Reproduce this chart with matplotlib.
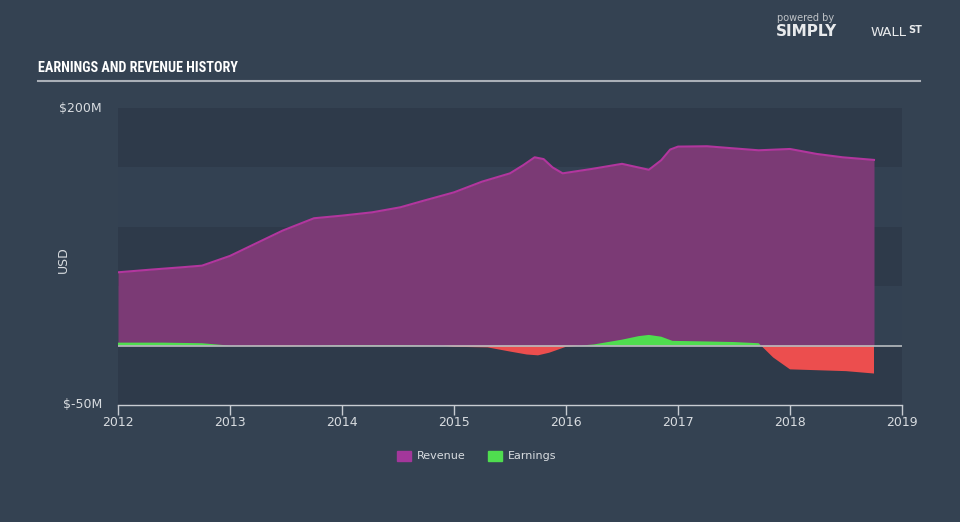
import matplotlib
matplotlib.use("Agg")
import matplotlib.pyplot as plt
import numpy as np
from matplotlib.patches import Patch
from matplotlib import font_manager

# ---- data (values in $M) ----
rev_x = [2012.0, 2012.3, 2012.58, 2012.75, 2013.0, 2013.24, 2013.47, 2013.75, 2014.0, 2014.27,
         2014.52, 2014.73, 2015.0, 2015.25, 2015.5, 2015.62, 2015.72, 2015.8, 2015.88, 2015.97,
         2016.23, 2016.5, 2016.62, 2016.74, 2016.85, 2016.93, 2017.0, 2017.26, 2017.5, 2017.72,
         2018.0, 2018.24, 2018.47, 2018.75]
rev_y = [61.7, 64.0, 66.0, 67.3, 75.5, 86.4, 96.8, 107.2, 109.4, 112.2,
         116.4, 122.0, 129.0, 138.0, 145.0, 152.0, 158.5, 157.0, 150.0, 145.0,
         148.7, 153.0, 150.5, 148.0, 156.0, 165.0, 167.5, 167.8, 166.0, 164.4,
         165.5, 161.3, 158.5, 156.3]

earn_x = [2012.0, 2012.4, 2012.75, 2013.0, 2013.5, 2014.0, 2014.5, 2014.9, 2015.0, 2015.3,
          2015.5, 2015.65, 2015.75, 2015.85, 2016.0, 2016.25, 2016.5, 2016.65, 2016.74, 2016.85,
          2016.95, 2017.25, 2017.5, 2017.72, 2017.85, 2018.0, 2018.5, 2018.75]
earn_y = [2.5, 2.5, 2.0, 0.0, -0.5, 0.5, 0.5, 0.0, -1.0, -1.5,
          -5.0, -7.5, -8.2, -6.0, -1.0, 1.0, 5.0, 8.0, 9.0, 7.5,
          4.0, 3.5, 3.0, 2.0, -10.0, -20.0, -21.5, -23.5]

x_ticks = [2012, 2013, 2014, 2015, 2016, 2017, 2018, 2019]
y_labels = ["$200M", "$-50M"]

# ---- colors ----
BG = "#344252"
BAND_DARK = "#2e3a4a"
BAND_LIGHT = "#334152"
REV_FILL = "#7b3a75"
REV_LINE = "#b2369e"
GREEN = "#4fdd4f"
RED = "#ec4e4e"
TXT = "#d8dce0"

names = {f.name for f in font_manager.fontManager.ttflist}
title_family, title_size = ["DejaVu Sans"], 8.5
for fam, sz in [("Roboto Condensed", 10.2), ("Open Sans Condensed", 10.2),
                ("Liberation Sans Narrow", 10), ("Roboto", 9)]:
    if fam in names:
        title_family, title_size = [fam, "DejaVu Sans"], sz
        break

fig = plt.figure(figsize=(9.6, 5.22), dpi=100, facecolor=BG)
ax = fig.add_axes([118/960, (522-405)/522, (902-118)/960, (405-108)/522])
ax.set_facecolor(BG)

ymin, ymax = -50, 200
ax.set_xlim(2012, 2019)
ax.set_ylim(ymin, ymax)

# background bands
for lo, hi, c in [(150, 200, BAND_DARK), (100, 150, BAND_LIGHT), (50, 100, BAND_DARK),
                  (0, 50, BAND_LIGHT), (-50, 0, BAND_DARK)]:
    ax.axhspan(lo, hi, color=c, lw=0, zorder=0)

rx = np.array(rev_x); ry = np.array(rev_y)
ax.fill_between(rx, 0, ry, color=REV_FILL, lw=0, zorder=2)
ax.plot(rx, ry, color=REV_LINE, lw=1.5, zorder=3)

ex = np.array(earn_x); ey = np.array(earn_y)
ax.fill_between(ex, 0, ey, where=ey >= 0, interpolate=True, color=GREEN, lw=0, zorder=4)
ax.fill_between(ex, 0, ey, where=ey <= 0, interpolate=True, color=RED, lw=0, zorder=4)

ax.axhline(0, color="#b8bcc0", lw=1.2, zorder=5)

for s in ["top", "right", "left"]:
    ax.spines[s].set_visible(False)
ax.spines["bottom"].set_color("#c8ccd2")
ax.spines["bottom"].set_linewidth(1)

ax.set_xticks(x_ticks)
ax.set_xticklabels([str(t) for t in x_ticks], color=TXT, fontsize=9)
ax.tick_params(axis="x", colors="#c8ccd2", length=7, width=1, labelcolor=TXT, pad=1)
ax.set_yticks([])

# y labels
fig.text(102/960, 1 - 108/522, y_labels[0], ha="right", va="center", color=TXT, fontsize=9)
fig.text(102/960, 1 - 404/522, y_labels[1], ha="right", va="center", color=TXT, fontsize=9)
fig.text(63/960, 1 - 260/522, "USD", ha="center", va="center", rotation=90, color=TXT, fontsize=9)

# title and rule
fig.text(38/960, 1 - 68/522, "EARNINGS AND REVENUE HISTORY", ha="left", va="center",
         color="white", fontsize=title_size, fontweight="bold", family=title_family)
fig.add_artist(plt.Line2D([38/960, 920/960], [1 - 81/522, 1 - 81/522], color="#aab0b8", lw=1.5))

# branding
fig.text(777/960, 1 - 18/522, "powered by", ha="left", va="center", color="#c0c4c8", fontsize=7)
fig.text(776/960, 1 - 32/522, "SIMPLY", ha="left", va="center", color="#e8eaec",
         fontsize=11, fontweight="bold")
fig.text(871/960, 1 - 32/522, "WALL", ha="left", va="center", color="#e8eaec", fontsize=9.5)
fig.text(908/960, 1 - 30/522, "ST", ha="left", va="center", color="#e8eaec", fontsize=7,
         fontweight="bold")

# legend
handles = [Patch(color="#a3379b", label="Revenue"), Patch(color=GREEN, label="Earnings")]
leg = fig.legend(handles=handles, loc="center", bbox_to_anchor=(477/960, 1 - 456/522), ncol=2,
                 frameon=False, fontsize=8, handlelength=1.2, handleheight=1.0,
                 columnspacing=2.0, handletextpad=0.6)
for t in leg.get_texts():
    t.set_color(TXT)

fig.savefig("out.png", dpi=100, facecolor=BG)
